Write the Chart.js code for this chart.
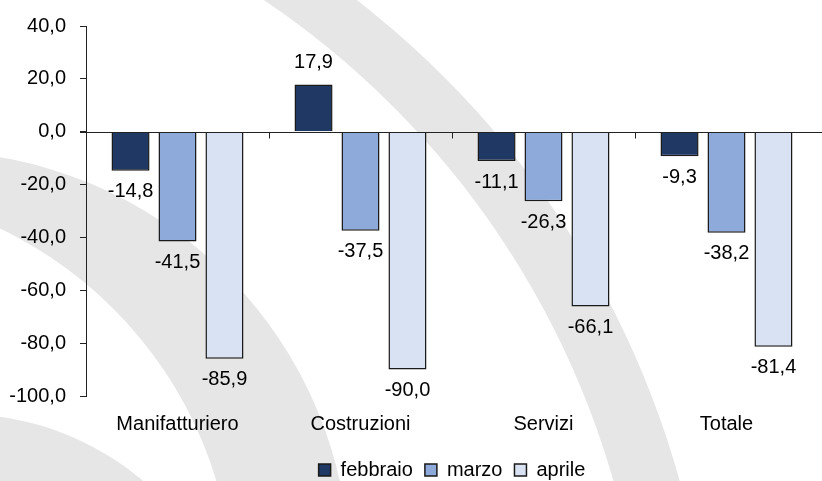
<!DOCTYPE html>
<html>
<head>
<meta charset="utf-8">
<script src="https://cdn.jsdelivr.net/npm/chart.js@4.4.0/dist/chart.umd.min.js"></script>
<style>
  html, body { margin: 0; padding: 0; background: #fff; }
  #wrap { width: 822px; height: 481px; }
</style>
</head>
<body>
<div id="wrap"><canvas id="chart" width="822" height="481"></canvas></div>
<script>
const categories = ['Manifatturiero', 'Costruzioni', 'Servizi', 'Totale'];
const febbraio = [-14.8, 17.9, -11.1, -9.3];
const marzo = [-41.5, -37.5, -26.3, -38.2];
const aprile = [-85.9, -90.0, -66.1, -81.4];
const seriesNames = ['febbraio', 'marzo', 'aprile'];
const yTicks = [40, 20, 0, -20, -40, -60, -80, -100];

const FONT = "'Liberation Sans', Arial, sans-serif";
const FS = 20;
const fmt = v => v.toFixed(1).replace('.', ',');

function disk(ctx, cx, cy, r) {
  ctx.beginPath();
  ctx.arc(cx, cy, r, 0, Math.PI * 2);
  ctx.fill();
}

// grey crescents in the background (watermark)
const watermark = {
  id: 'watermark',
  beforeDraw(chart) {
    const ctx = chart.ctx;
    const grey = '#e6e6e6';
    ctx.save();
    ctx.fillStyle = '#fff';
    ctx.fillRect(0, 0, chart.width, chart.height);
    // middle crescent
    ctx.fillStyle = grey; disk(ctx, -72, 573, 422);
    ctx.fillStyle = '#fff'; disk(ctx, -178, 600, 412);
    // lower one
    ctx.fillStyle = grey; disk(ctx, -39, 695, 281);
    // outer band
    ctx.beginPath();
    ctx.arc(-205, 726, 918, 0, Math.PI * 2);
    ctx.arc(-221, 720, 868, 0, Math.PI * 2, true);
    ctx.fill('evenodd');
    ctx.restore();
  }
};

// zero line with small ticks between categories, and value labels
const extras = {
  id: 'extras',
  afterDatasetsDraw(chart) {
    const ctx = chart.ctx;
    const x = chart.scales.x, y = chart.scales.y;
    const y0 = Math.round(y.getPixelForValue(0)) + 0.5;
    ctx.save();
    ctx.strokeStyle = '#222';
    ctx.lineWidth = 1;
    ctx.beginPath();
    ctx.moveTo(y.right - 6, y0);
    ctx.lineTo(chart.width, y0);
    for (let i = 1; i < categories.length; i++) {
      const xp = Math.round(x.getPixelForValue(i - 0.5)) + 0.5;
      ctx.moveTo(xp, y0);
      ctx.lineTo(xp, y0 + 6);
    }
    ctx.stroke();

    ctx.fillStyle = '#000';
    ctx.font = FS + 'px ' + FONT;
    ctx.textAlign = 'center';
    chart.data.datasets.forEach((ds, di) => {
      chart.getDatasetMeta(di).data.forEach((bar, i) => {
        const v = ds.data[i];
        if (v >= 0) {
          ctx.textBaseline = 'bottom';
          ctx.fillText(fmt(v), bar.x, bar.y - 12);
        } else {
          ctx.textBaseline = 'top';
          ctx.fillText(fmt(v), bar.x, bar.y + 11);
        }
      });
    });
    ctx.restore();
  }
};

const colors = ['#1f3864', '#8eaadb', '#d9e2f3'];
const values = [febbraio, marzo, aprile];

new Chart(document.getElementById('chart'), {
  type: 'bar',
  data: {
    labels: categories,
    datasets: seriesNames.map((name, i) => ({
      label: name,
      data: values[i],
      backgroundColor: colors[i],
      borderColor: '#1a1a1a',
      borderWidth: 1.5,
      categoryPercentage: 0.77,
      barPercentage: 0.81
    }))
  },
  options: {
    responsive: false,
    animation: false,
    layout: { padding: { top: 25, right: 4, left: 0, bottom: -9 } },
    plugins: {
      tooltip: { enabled: false },
      legend: {
        position: 'bottom',
        fullSize: false,
        labels: {
          color: '#000',
          font: { size: FS, family: FONT },
          boxWidth: 12,
          boxHeight: 12,
          padding: 12
        }
      }
    },
    scales: {
      y: {
        min: -100,
        max: 40,
        afterBuildTicks(scale) { scale.ticks = yTicks.map(v => ({ value: v })); },
        afterFit(scale) { scale.width = 86; },
        border: { display: true, color: '#222', width: 1 },
        grid: { display: true, drawOnChartArea: false, drawTicks: true, tickLength: 6, color: '#222' },
        ticks: {
          color: '#000',
          padding: 14,
          font: { size: FS, family: FONT },
          callback: v => fmt(v)
        }
      },
      x: {
        border: { display: false },
        grid: { display: false },
        afterFit(scale) { scale.height = 52; },
        ticks: {
          color: '#000',
          padding: 8,
          font: { size: FS, family: FONT }
        }
      }
    }
  },
  plugins: [watermark, extras]
});
</script>
</body>
</html>
